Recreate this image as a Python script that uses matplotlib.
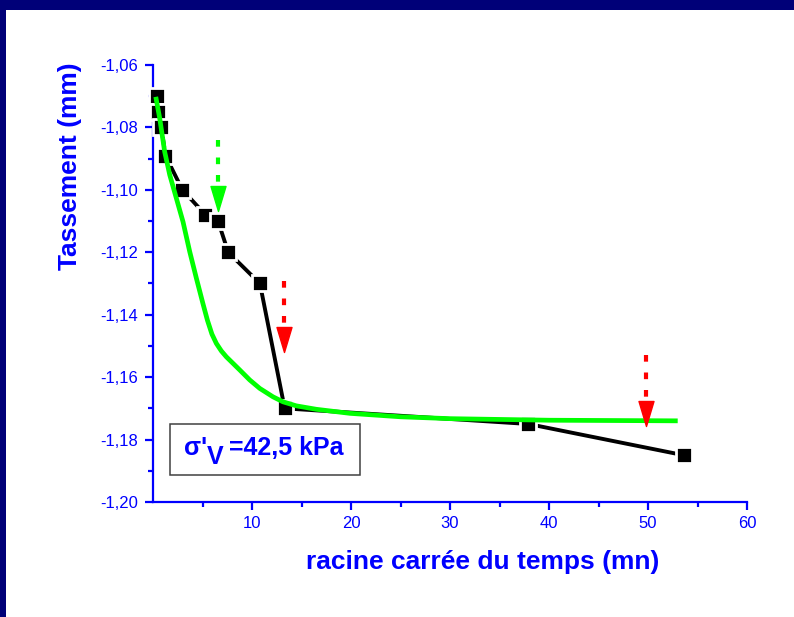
import matplotlib
matplotlib.use('Agg')
import matplotlib.pyplot as plt
from matplotlib.ticker import MultipleLocator, FuncFormatter, FixedLocator
from matplotlib.patches import Rectangle
from matplotlib.path import Path

plt.rcParams['font.family'] = ['Liberation Sans', 'DejaVu Sans']

# measured settlement (black squares)
x_exp = [0.4, 0.5, 0.85, 1.25, 2.97, 5.3, 6.57, 7.6, 10.8, 13.3, 37.9, 53.6]
y_exp = [-1.070, -1.075, -1.080, -1.089, -1.100, -1.108, -1.110, -1.120, -1.130, -1.170, -1.175, -1.185]

# fitted curve (green)
x_fit = [0.28, 0.68, 1.18, 1.69, 2.36, 3.03, 3.71, 4.38, 5.05, 5.5, 5.95, 6.4, 6.9, 7.41, 8.76, 9.77, 10.78,
         12.12, 13.13, 14.48, 16.5, 19.9, 25.0, 30.0, 40.0, 53.0]
y_fit = [-1.0702, -1.0771, -1.0878, -1.0952, -1.1027, -1.1102, -1.1198, -1.1283, -1.1365, -1.1418, -1.1462,
         -1.1492, -1.1516, -1.1535, -1.1577, -1.1609, -1.1636, -1.1663, -1.1679, -1.1692, -1.1703, -1.1716,
         -1.1727, -1.1733, -1.1738, -1.174]

# dotted arrows: x, shaft top, head base
arrow_x = [6.57, 13.2, 49.8]
arrow_top = [-1.084, -1.1291, -1.1528]
arrow_base = [-1.0988, -1.1438, -1.1675]
arrow_col = ['#00ff00', '#ff0000', '#ff0000']

blue = '#0000ff'
fig = plt.figure(figsize=(7.94, 6.17), dpi=100)
fig.patches.append(Rectangle((0, 1 - 10/617), 1, 10/617, transform=fig.transFigure, fc='#000078', ec='none', zorder=0))
fig.patches.append(Rectangle((0, 0), 6/794, 1, transform=fig.transFigure, fc='#000078', ec='none', zorder=0))

ax = fig.add_axes([153/794, 1 - 502/617, 594/794, 437/617])
ax.set_xlim(0, 60)
ax.set_ylim(-1.20, -1.06)
for s in ('top', 'right'):
    ax.spines[s].set_visible(False)
for s in ('left', 'bottom'):
    ax.spines[s].set_color(blue)
    ax.spines[s].set_linewidth(1.6)
ax.xaxis.set_major_locator(FixedLocator([10, 20, 30, 40, 50, 60]))
ax.xaxis.set_minor_locator(FixedLocator([5, 15, 25, 35, 45, 55]))
ax.yaxis.set_major_locator(MultipleLocator(0.02))
ax.yaxis.set_minor_locator(MultipleLocator(0.01))
ax.yaxis.set_major_formatter(FuncFormatter(lambda v, p: f'{v:.2f}'.replace('.', ',')))
ax.tick_params(which='both', direction='out', colors=blue, width=1.6, labelsize=12, labelcolor=blue)
ax.tick_params(which='major', length=6)
ax.tick_params(which='minor', length=3.5)
ax.tick_params(axis='y', pad=5)
ax.tick_params(axis='x', pad=4)

ax.plot(x_exp, y_exp, color='k', lw=2.8, marker='s', ms=11, mfc='k', mec='w', mew=2, zorder=3, clip_on=False)
ax.plot(x_fit, y_fit, color='#00ff00', lw=3.4, zorder=4, solid_capstyle='butt', solid_joinstyle='round')

head = Path([(-0.3, 0), (0.3, 0), (0, -1), (-0.3, 0)], [Path.MOVETO, Path.LINETO, Path.LINETO, Path.CLOSEPOLY])
for x, t, b, c in zip(arrow_x, arrow_top, arrow_base, arrow_col):
    ax.plot([x, x], [t, b], color=c, lw=3, ls=(0, (1.6, 2.6)), zorder=5)
    ax.plot([x], [b], marker=head, ms=36, color=c, mec=c, mew=1, ls='none', zorder=5)

# sigma'_v label box
ax.add_patch(Rectangle((17/594, 27/437), 190/594, 51/437, transform=ax.transAxes, fc='w', ec='#404040', lw=1.1, zorder=6))
txt = dict(transform=ax.transAxes, ha='left', va='baseline', fontsize=18, fontweight='bold', color=blue, zorder=7)
ax.text(31/594, 47/437, "σ'", **txt)
ax.text(54/594, 38/437, 'V', **txt)
ax.text(76/594, 47/437, '=42,5 kPa', **txt)

ax.text(0.555, -67/437, 'racine carrée du temps (mn)', transform=ax.transAxes, ha='center', va='baseline',
        fontsize=19, fontweight='bold', color=blue)
ax.text(-76/594, 336/437, 'Tassement (mm)', transform=ax.transAxes, ha='center', va='baseline', rotation=90,
        rotation_mode='anchor', fontsize=19, fontweight='bold', color=blue)

fig.savefig('out.png', dpi=100)
